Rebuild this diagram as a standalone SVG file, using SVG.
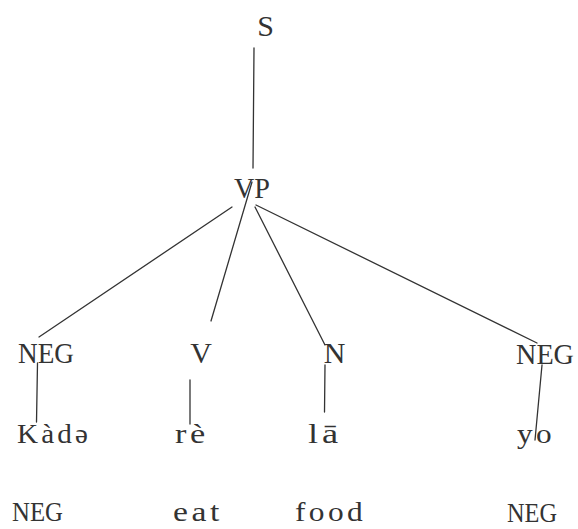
<svg xmlns="http://www.w3.org/2000/svg" width="578" height="529" viewBox="0 0 578 529">
  <style>
    .lbl { font-family: "Liberation Serif", "DejaVu Serif", serif; fill: #333; }
    .mid { text-anchor: middle; }
    .cat { font-size: 30px; }
    .word { font-size: 28px; letter-spacing: 3px; }
    .caps { font-size: 27px; }
    .edge { stroke: #333; stroke-width: 1.3; fill: none; stroke-linecap: round; }
  </style>
  <rect width="578" height="529" fill="#fff"/>

  <!-- tree branches -->
  <g id="connectors">
    <line class="edge" x1="254" y1="48" x2="253" y2="168"/>
    <line class="edge" x1="232" y1="207" x2="39" y2="337"/>
    <line class="edge" x1="252" y1="182" x2="211" y2="321"/>
    <line class="edge" x1="255" y1="207" x2="325" y2="345"/>
    <line class="edge" x1="256" y1="205" x2="537" y2="343"/>
    <line class="edge" x1="37.5" y1="363" x2="36.5" y2="422"/>
    <line class="edge" x1="190" y1="380" x2="190" y2="424"/>
    <line class="edge" x1="325" y1="365" x2="324.5" y2="412"/>
    <line class="edge" x1="542" y1="365" x2="535" y2="440"/>
  </g>

  <g id="node-s"><text class="lbl cat mid" x="265.5" y="36">S</text></g>
  <g id="node-vp"><text class="lbl cat" x="234" y="198" textLength="36" lengthAdjust="spacingAndGlyphs">VP</text></g>

  <g id="node-neg1"><text class="lbl cat" x="18" y="363" textLength="56" lengthAdjust="spacingAndGlyphs">NEG</text></g>
  <g id="node-v"><text class="lbl cat mid" x="201" y="363">V</text></g>
  <g id="node-n"><text class="lbl cat mid" x="334.5" y="363">N</text></g>
  <g id="node-neg2"><text class="lbl cat" x="516" y="364" textLength="58" lengthAdjust="spacingAndGlyphs">NEG</text></g>

  <g id="word-kade"><text class="lbl word" x="17" y="443" textLength="74" lengthAdjust="spacingAndGlyphs">Kàdə</text></g>
  <g id="word-re"><text class="lbl word" x="175" y="443" textLength="34" lengthAdjust="spacingAndGlyphs">rè</text></g>
  <g id="word-la"><text class="lbl word" x="308" y="443" textLength="34" lengthAdjust="spacingAndGlyphs">lā</text></g>
  <g id="word-yo"><text class="lbl word" x="517" y="443" textLength="38" lengthAdjust="spacingAndGlyphs">yo</text></g>

  <g id="gloss-neg1"><text class="lbl caps" x="12" y="521" textLength="51" lengthAdjust="spacingAndGlyphs">NEG</text></g>
  <g id="gloss-eat"><text class="lbl word" x="173" y="521" textLength="50" lengthAdjust="spacingAndGlyphs">eat</text></g>
  <g id="gloss-food"><text class="lbl word" x="295" y="521" textLength="71" lengthAdjust="spacingAndGlyphs">food</text></g>
  <g id="gloss-neg2"><text class="lbl caps" x="507" y="522" textLength="50" lengthAdjust="spacingAndGlyphs">NEG</text></g>
</svg>
